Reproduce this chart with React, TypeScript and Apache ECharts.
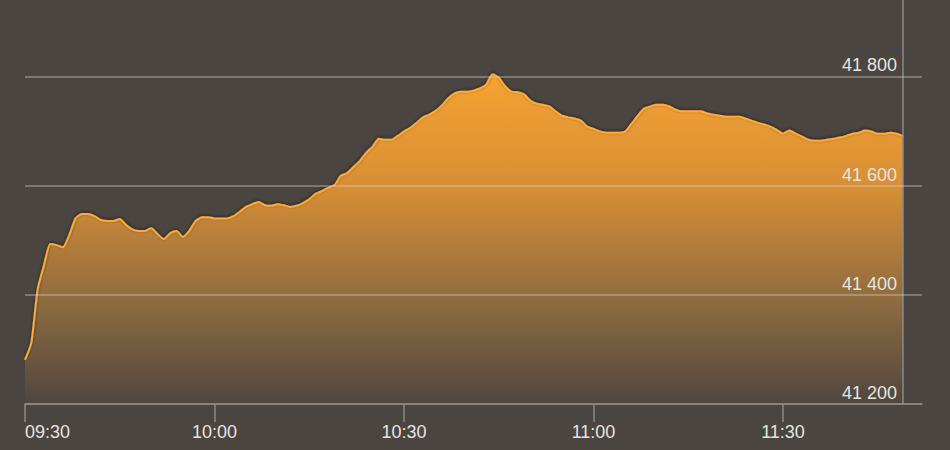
import React, { useEffect, useRef } from "react";
import * as echarts from "echarts";

// minutes after 09:30, one value per minute
const indexValues: number[] = [
  41281, 41312, 41410, 41454, 41493, 41491, 41487, 41509, 41540, 41548,
  41548, 41544, 41537, 41535, 41535, 41539, 41528, 41520, 41517, 41517,
  41522, 41511, 41502, 41513, 41517, 41506, 41517, 41535, 41542, 41542,
  41540, 41540, 41540, 41544, 41552, 41561, 41566, 41570, 41564, 41563,
  41566, 41564, 41561, 41563, 41568, 41575, 41585, 41590, 41596, 41601,
  41618, 41623, 41634, 41645, 41660, 41671, 41686, 41684, 41684, 41691,
  41699, 41706, 41715, 41725, 41730, 41737, 41747, 41760, 41769, 41772,
  41772, 41774, 41778, 41785, 41804, 41798, 41782, 41772, 41771, 41767,
  41756, 41750, 41748, 41745, 41736, 41728, 41725, 41723, 41719, 41708,
  41704, 41699, 41697, 41697, 41697, 41699, 41713, 41728, 41741, 41745,
  41748, 41748, 41745, 41739, 41736, 41736, 41736, 41736, 41732, 41730,
  41728, 41726, 41726, 41726, 41723, 41719, 41715, 41712, 41708, 41702,
  41695, 41701, 41695, 41690, 41684, 41682, 41682, 41684, 41686, 41688,
  41691, 41695, 41697, 41701, 41699, 41695, 41695, 41697, 41695, 41691,
];

const xTickMinutes: number[] = [0, 30, 60, 90, 120];
const xTickLabels: string[] = ["09:30", "10:00", "10:30", "11:00", "11:30"];
const yTickValues: number[] = [41200, 41400, 41600, 41800];

const BG = "#4a4541";
const GRID = "#8c8883";
const GRID_OVER = "rgba(215,210,204,0.48)";
const FONT = "'Liberation Sans', Arial, Helvetica, sans-serif";

export default function App() {
  const ref = useRef<HTMLDivElement>(null);

  useEffect(() => {
    if (!ref.current) return;
    const chart = echarts.init(ref.current, undefined, { renderer: "svg" });
    const data = indexValues.map((v, i) => [i, v]);
    const lastMinute = indexValues.length - 1;

    chart.setOption({
      animation: false,
      backgroundColor: BG,
      grid: { left: 25, right: 28, top: 0, bottom: 46 },
      xAxis: {
        type: "value",
        min: 0,
        max: 142,
        interval: 30,
        z: 10,
        splitLine: { show: false },
        axisLine: { show: true, lineStyle: { color: GRID, width: 1.5 } },
        axisTick: {
          show: true,
          length: 18,
          customValues: xTickMinutes,
          lineStyle: { color: GRID, width: 1.5 },
        },
        axisLabel: {
          customValues: xTickMinutes,
          margin: 19,
          color: "#e6e4e0",
          fontSize: 18,
          fontFamily: FONT,
          alignMinLabel: "left",
          formatter: (v: number) => {
            const idx = xTickMinutes.indexOf(v);
            return idx >= 0 ? xTickLabels[idx] : "";
          },
        },
      },
      yAxis: {
        type: "value",
        position: "right",
        min: 41200,
        max: 41940,
        interval: 200,
        z: 10,
        axisLine: { show: false },
        axisTick: { show: false },
        splitLine: {
          show: true,
          showMaxLine: false,
          lineStyle: { color: GRID_OVER, width: 1.5 },
        },
        axisLabel: {
          inside: true,
          margin: 25,
          showMaxLabel: false,
          verticalAlign: "bottom",
          padding: [0, 0, 2, 0],
          color: "#e6e4e0",
          fontSize: 18,
          fontFamily: FONT,
          formatter: (v: number) => {
            if (!yTickValues.includes(v)) return "";
            const s = String(v);
            return s.slice(0, s.length - 3) + " " + s.slice(s.length - 3);
          },
        },
      },
      series: [
        {
          type: "line",
          data,
          showSymbol: false,
          symbol: "none",
          smooth: 0.2,
          z: 2,
          lineStyle: {
            color: "#f8ac3e",
            width: 2,
            shadowColor: "rgba(30,20,10,0.6)",
            shadowBlur: 3,
            shadowOffsetY: -1,
          },
          areaStyle: {
            color: new echarts.graphic.LinearGradient(0, 0, 0, 1, [
              { offset: 0, color: "#f6a232" },
              { offset: 0.35, color: "#d68e36" },
              { offset: 0.7, color: "#8c6a40" },
              { offset: 1, color: "#4f4640" },
            ]),
            opacity: 1,
          },
          markLine: {
            silent: true,
            symbol: "none",
            label: { show: false },
            lineStyle: { color: GRID, width: 1.5, type: "solid" },
            data: [{ xAxis: lastMinute }],
          },
        },
      ],
    });

    return () => chart.dispose();
  }, []);

  return (
    <div
      ref={ref}
      style={{ position: "absolute", left: 0, top: 0, width: 950, height: 450 }}
    />
  );
}
